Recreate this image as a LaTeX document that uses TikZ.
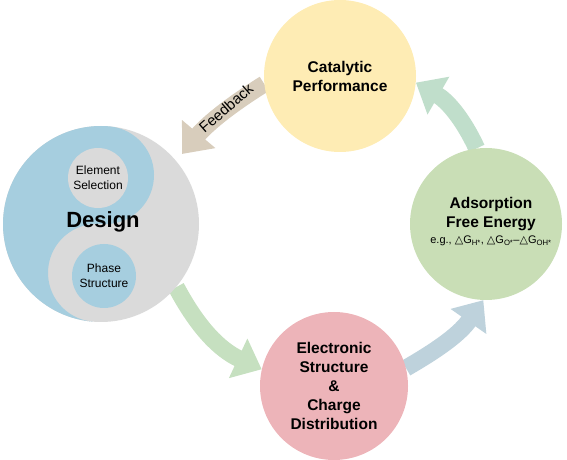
\documentclass[tikz,border=0pt]{standalone}
\usepackage{fontspec}
\setmainfont{Liberation Sans}
\newfontfamily\symfont{DejaVu Sans}
\usetikzlibrary{arrows.meta,backgrounds}

\definecolor{catyellow}{RGB}{254,236,180}
\definecolor{adsgreen}{RGB}{201,222,182}
\definecolor{elecpink}{RGB}{237,180,185}
\definecolor{yinblue}{RGB}{166,206,223}
\definecolor{yanggray}{RGB}{218,218,218}
\definecolor{fbbrown}{RGB}{216,205,188}
\definecolor{arrgreen}{RGB}{198,224,192}
\definecolor{arrblue}{RGB}{190,210,220}
\definecolor{arrteal}{RGB}{192,222,203}

\tikzset{
  stage/.style={circle, minimum size=#1, inner sep=0pt},
  title/.style={font=\bfseries\fontsize{15.5}{19}\selectfont, align=center},
  small/.style={font=\fontsize{12}{15}\selectfont, align=center},
  bigarrow/.style={draw=#1, line width=17pt, -{Triangle[width=42pt,length=26pt]}},
}

\begin{document}
\begin{tikzpicture}[x=1pt,y=1pt]
	\useasboundingbox (0,0) rectangle (567,460);
	% the four stages
	\node[stage=196pt, fill=yanggray] (design) at (101,236) {};
	\begin{scope}[shift={(101,236)}, rotate=-4.7]
	 \fill[yinblue] (0,98) arc[start angle=90, end angle=270, radius=98]
	   arc[start angle=-90, end angle=-270, radius=49]
	   arc[start angle=-90, end angle=90, radius=49] -- cycle;
	\end{scope}
	\node[stage=60pt, fill=yanggray, small] (elem) at (98,282) {Element\\Selection};
	\node[stage=64pt, fill=yinblue, small] (phase) at (104,184) {Phase\\Structure};
	\node[font=\bfseries\fontsize{22}{26}\selectfont] (designlabel) at (103,238) {Design};
	\node[stage=152pt, fill=catyellow, title] (cat) at (340,384) {Catalytic\\Performance};
	\node[stage=152pt, fill=adsgreen, title] (ads) at (486,236) {};
	\node[title] (adslabel) at (491,238) {Adsorption\\Free Energy\\[-3pt]
	  {\mdseries\fontsize{11}{13}\selectfont e.g., {\symfont △}G\textsubscript{H*}, {\symfont △}G\textsubscript{O*}–{\symfont △}G\textsubscript{OH*}}};
	\node[stage=148pt, fill=elecpink, title] (elec) at (334,74) {Electronic\\Structure\\\&\\Charge\\Distribution};
	% arrows behind
	\begin{scope}[on background layer]
	 \draw[bigarrow=fbbrown, shorten >=9pt] (cat.186) to[out=212, in=50] (design.40);
	 \draw[bigarrow=arrgreen] (design.-40) to[out=-62, in=155] (elec.167);
	 \draw[bigarrow=arrblue] (elec.14) to[out=30, in=235] (ads.268);
	 \draw[bigarrow=arrteal] (ads.97) to[out=115, in=-30] (cat.-5);
	\end{scope}
	\node[rotate=41, font=\fontsize{15}{15}\selectfont] (fblabel) at (226,352) {Feedback};
\end{tikzpicture}
\end{document}
